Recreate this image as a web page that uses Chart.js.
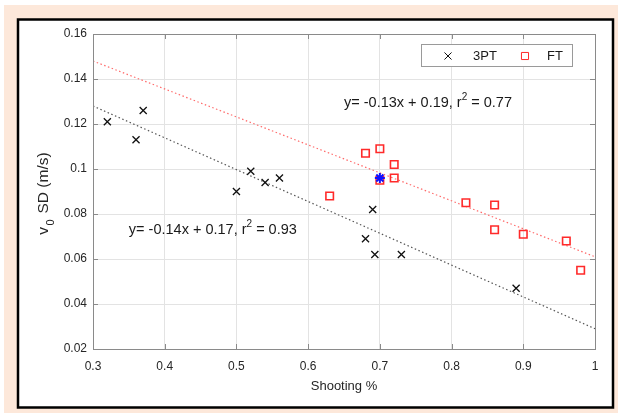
<!DOCTYPE html>
<html><head><meta charset="utf-8">
<script src="https://cdn.jsdelivr.net/npm/chart.js@4"></script>
<style>html,body{margin:0;padding:0;background:#fff;}#wrap{width:619px;height:415px;position:relative;}canvas{display:block}</style>
</head><body><div id="wrap"><canvas id="c" width="619" height="415"></canvas></div>
<script>
const xTicks = [0.3,0.4,0.5,0.6,0.7,0.8,0.9,1];
const xTickLabels = ['0.3','0.4','0.5','0.6','0.7','0.8','0.9','1'];
const yTicks = [0.02,0.04,0.06,0.08,0.10,0.12,0.14,0.16];
const yTickLabels = ['0.02','0.04','0.06','0.08','0.1','0.12','0.14','0.16'];

const seriesNames = ['3PT','FT'];
const pt3X = [0.32,0.36,0.37,0.50,0.52,0.54,0.56,0.68,0.69,0.693,0.73,0.89];
const pt3Y = [0.121,0.113,0.126,0.090,0.099,0.094,0.096,0.069,0.082,0.062,0.062,0.047];
const ftX = [0.63,0.68,0.70,0.70,0.72,0.72,0.82,0.86,0.86,0.90,0.96,0.98];
const ftY = [0.088,0.107,0.109,0.095,0.102,0.096,0.085,0.084,0.073,0.071,0.068,0.055];
const markX = [0.70];
const markY = [0.096];
const fit3X = [0.3,1];
const fit3Y = [0.128,0.029];
const fitFtX = [0.3,1];
const fitFtY = [0.148,0.061];
const eq3 = ['y= -0.14x + 0.17, r','2',' = 0.93'];
const eqFt = ['y= -0.13x + 0.19, r','2',' = 0.77'];
const eq3Pos = [0.35,0.073];
const eqFtPos = [0.65,0.1293];
const xTitle = 'Shooting %';
const yTitle = ['v','0',' SD (m/s)'];

const zip = (xs,ys)=>xs.map((x,i)=>({x:x,y:ys[i]}));
const FONT = '"Liberation Sans", Arial, sans-serif';
const RED = '#ff2a2a';

const deco = {
  id:'deco',
  beforeDraw(chart){
    const c = chart.ctx;
    c.save();
    c.fillStyle='#fff'; c.fillRect(0,0,619,415);
    c.fillStyle='#fde8da'; c.fillRect(4,5,614,408);
    c.fillStyle='#fff'; c.fillRect(18,19.5,595,388);
    c.strokeStyle='#000'; c.lineWidth=2.5; c.strokeRect(18,19.5,595,388);
    c.restore();
  },
  afterDatasetsDraw(chart){
    const c = chart.ctx, a = chart.chartArea, xs = chart.scales.x, ys = chart.scales.y;
    c.save();
    // box and inward ticks
    c.strokeStyle='#8a8a8a'; c.lineWidth=1;
    c.strokeRect(Math.round(a.left)+0.5, Math.round(a.top)+0.5, Math.round(a.right-a.left), Math.round(a.bottom-a.top));
    c.beginPath();
    xTicks.forEach(v=>{const p=Math.round(xs.getPixelForValue(v))+0.5;
      c.moveTo(p,a.top); c.lineTo(p,a.top+5); c.moveTo(p,a.bottom); c.lineTo(p,a.bottom-5);});
    yTicks.forEach(v=>{const p=Math.round(ys.getPixelForValue(v))+0.5;
      c.moveTo(a.left,p); c.lineTo(a.left+5,p); c.moveTo(a.right,p); c.lineTo(a.right-5,p);});
    c.stroke();
    // x title
    c.fillStyle='#262626'; c.font='13px '+FONT; c.textAlign='center'; c.textBaseline='middle';
    c.fillText(xTitle,(a.left+a.right)/2,386);
    // y title
    c.save();
    c.translate(42,193.5); c.rotate(-Math.PI/2);
    c.textBaseline='alphabetic';
    c.font='15.5px '+FONT; const w0=c.measureText(yTitle[0]).width;
    c.font='11px '+FONT; const w1=c.measureText(yTitle[1]).width;
    c.font='15.5px '+FONT; const w2=c.measureText(yTitle[2]).width;
    const gap=1.5;
    let sx=-(w0+w1+w2+gap*2)/2; c.textAlign='left';
    c.fillText(yTitle[0],sx,6); c.font='11px '+FONT; c.fillText(yTitle[1],sx+w0+gap,12);
    c.font='15.5px '+FONT; c.fillText(yTitle[2],sx+w0+w1+gap*2,6);
    c.restore();
    // equations
    const drawEq=(parts,pos)=>{
      let x=xs.getPixelForValue(pos[0]), y=ys.getPixelForValue(pos[1]);
      c.textAlign='left'; c.textBaseline='middle'; c.fillStyle='#1a1a1a';
      c.font='14.5px '+FONT; c.fillText(parts[0],x,y); x+=c.measureText(parts[0]).width;
      c.font='10px '+FONT; c.fillText(parts[1],x,y-6); x+=c.measureText(parts[1]).width;
      c.font='14.5px '+FONT; c.fillText(parts[2],x,y);
    };
    drawEq(eqFt,eqFtPos); drawEq(eq3,eq3Pos);
    // legend
    c.fillStyle='#fff'; c.fillRect(421.5,44.5,151,22);
    c.strokeStyle='#9a9a9a'; c.lineWidth=1; c.strokeRect(421.5,44.5,151,22);
    const ly=56;
    const ds=chart.data.datasets;
    c.strokeStyle=ds[0].borderColor; c.fillStyle=ds[0].borderColor;
    Chart.helpers.drawPoint(c,{pointStyle:'crossRot',radius:5,borderWidth:1.3,rotation:0},448,ly);
    c.strokeStyle=ds[1].borderColor; c.fillStyle='#fff';
    Chart.helpers.drawPoint(c,{pointStyle:'rect',radius:5,borderWidth:1.5,rotation:0},525,ly);
    c.fillStyle='#1a1a1a'; c.font='13px '+FONT; c.textAlign='left'; c.textBaseline='middle';
    c.fillText(ds[0].label,473,ly); c.fillText(ds[1].label,547,ly);
    c.restore();
  }
};

new Chart(document.getElementById('c'),{
  type:'scatter',
  data:{datasets:[
    {label:seriesNames[0],data:zip(pt3X,pt3Y),pointStyle:'crossRot',pointRadius:5,pointBorderWidth:1.3,borderColor:'#111',backgroundColor:'#111',order:2},
    {label:seriesNames[1],data:zip(ftX,ftY),pointStyle:'rect',pointRadius:5.3,pointBorderWidth:1.6,borderColor:RED,backgroundColor:'rgba(255,255,255,0)',order:3},
    {label:'mark',data:zip(markX,markY),pointStyle:'star',pointRadius:5,pointBorderWidth:2,borderColor:'#1010ff',backgroundColor:'#1010ff',order:1},
    {label:'fit3',type:'line',data:zip(fit3X,fit3Y),borderColor:'#555',borderWidth:1.2,borderDash:[1.5,2.5],pointRadius:0,fill:false,order:5},
    {label:'fitFt',type:'line',data:zip(fitFtX,fitFtY),borderColor:'#ff6a6a',borderWidth:1.2,borderDash:[1.5,2.5],pointRadius:0,fill:false,order:4}
  ]},
  options:{
    responsive:false, animation:false, events:[],
    layout:{padding:{left:0,top:34,right:24,bottom:0}},
    plugins:{legend:{display:false},tooltip:{enabled:false}},
    scales:{
      x:{type:'linear',min:0.3,max:1,
        afterBuildTicks:s=>{s.ticks=xTicks.map(v=>({value:v}));},
        afterFit:s=>{s.height=66;},
        grid:{color:'#e3e3e3',drawTicks:false},border:{display:false},
        ticks:{padding:10,color:'#262626',font:{family:FONT,size:12},callback:(v,i)=>xTickLabels[i]}},
      y:{type:'linear',min:0.02,max:0.16,
        afterBuildTicks:s=>{s.ticks=yTicks.map(v=>({value:v}));},
        afterFit:s=>{s.width=93;},
        grid:{color:'#e3e3e3',drawTicks:false},border:{display:false},
        ticks:{padding:6,color:'#262626',font:{family:FONT,size:12},callback:(v,i)=>yTickLabels[i]}}
    }
  },
  plugins:[deco]
});
</script></body></html>
